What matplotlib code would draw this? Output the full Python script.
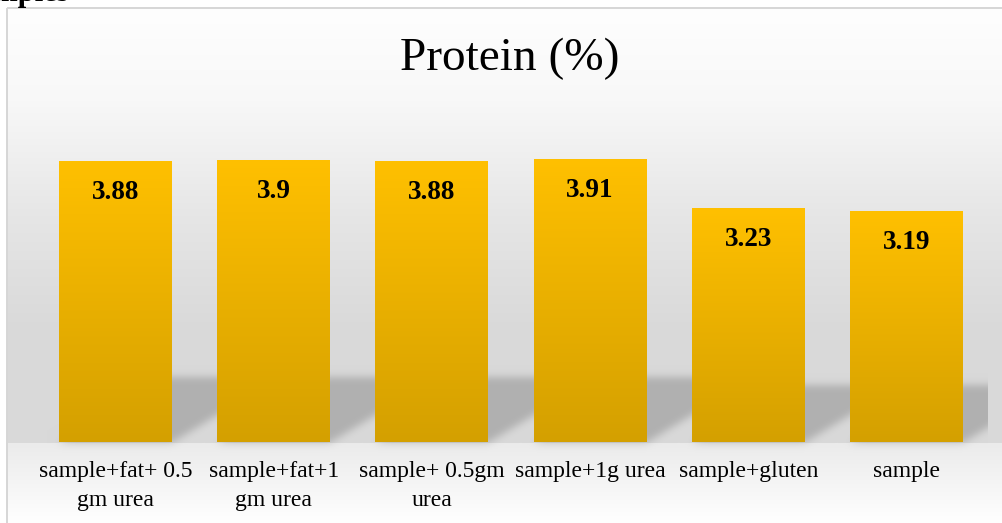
import numpy as np
import matplotlib
matplotlib.use("Agg")
import matplotlib.pyplot as plt

# ---- data -------------------------------------------------------------
categories = ["sample+fat+ 0.5\ngm urea", "sample+fat+1\ngm urea",
              "sample+ 0.5gm\nurea", "sample+1g urea", "sample+gluten", "sample"]
protein = [3.88, 3.9, 3.88, 3.91, 3.23, 3.19]
title = "Protein (%)"
heading = "Samples"

SERIF = "Liberation Serif"
W, H, DPI = 1003, 523, 100

fig = plt.figure(figsize=(W / DPI, H / DPI), dpi=DPI)
fig.patch.set_facecolor("white")

# full-figure background axes (pixel coordinates, y downwards)
ax_bg = fig.add_axes([0, 0, 1, 1], zorder=0)
ax_bg.set_xlim(0, W)
ax_bg.set_ylim(H, 0)
ax_bg.axis("off")

# plotting axes
ax = fig.add_axes([36.4 / W, (H - 442) / H, 949.2 / W, (442 - 116.2) / H], zorder=1)
ax.patch.set_alpha(0)
x = np.arange(len(categories))
bars = ax.bar(x, protein, width=0.714, color="none", edgecolor="none")
ax.set_xlim(-0.5, len(categories) - 0.5)
ax.set_ylim(0, 4.5)


def to_img(px, py):
    """display coords -> image pixel coords (origin top-left)"""
    return px, H - py


# ---- background: wall / floor gradient with a perspective bar shadow ----
base_y = to_img(*ax.transData.transform((0, 0)))[1]
rows = np.arange(H)
profile = np.interp(rows, [8, 100, 215, 330, base_y, base_y + 1, 520],
                    [254, 248, 230, 217, 217, 235, 254])
bg = np.tile(profile[:, None], (1, W)).astype(float)

mask = np.zeros((H, W))
for b in bars:
    x0, yb = to_img(*ax.transData.transform((b.get_x(), 0)))
    x1, yt = to_img(*ax.transData.transform((b.get_x() + b.get_width(), b.get_height())))
    hpx = yb - yt
    hs = 20 + 0.16 * hpx
    for r in range(int(round(yb - hs)), int(round(yb)) + 1):
        shift = (yb - r) * 1.66
        c0 = int(round(x0 + shift))
        c1 = int(round(x1 + shift))
        mask[r, max(c0, 0):min(c1, W)] = 1.0


def gblur(a, s):
    k = np.arange(-int(3 * s), int(3 * s) + 1)
    g = np.exp(-k ** 2 / (2 * s * s))
    g /= g.sum()
    a = np.apply_along_axis(lambda v: np.convolve(v, g, mode="same"), 0, a)
    a = np.apply_along_axis(lambda v: np.convolve(v, g, mode="same"), 1, a)
    return a


mask = gblur(mask, 4.0)
right_px = ax.transAxes.transform((1, 0))[0]
mask[:, int(round(right_px)) + 2:] = 0
bg -= 41 * mask
bg[:8, :] = 255
bg[:, :7] = 255
bg = np.clip(bg, 0, 255) / 255.0
ax_bg.imshow(np.dstack([bg, bg, bg]), extent=(0, W, H, 0), interpolation="bilinear",
             aspect="auto", zorder=0)
ax_bg.plot([7, 7], [8, H], color="#d6d6d6", lw=1.4, solid_capstyle="butt", zorder=1)
ax_bg.plot([7, W], [8, 8], color="#d6d6d6", lw=1.4, solid_capstyle="butt", zorder=1)
ax_bg.set_xlim(0, W)
ax_bg.set_ylim(H, 0)

# ---- bars with a vertical gold gradient ---------------------------------
top_c = np.array([255, 192, 0]) / 255
bot_c = np.array([212, 160, 0]) / 255
t = np.linspace(0, 1, 256)[:, None]
grad = (top_c[None, :] * (1 - t) + bot_c[None, :] * t)[:, None, :]
for b in bars:
    im = ax.imshow(grad, extent=(b.get_x(), b.get_x() + b.get_width(), 0, b.get_height()),
                   origin="upper", aspect="auto", interpolation="bilinear", zorder=2)
    im.set_clip_path(b)

ax.set_xlim(-0.5, len(categories) - 0.5)
ax.set_ylim(0, 4.5)

for xi, v in zip(x, protein):
    ax.annotate(f"{v:g}", xy=(xi, v), xytext=(0, -38 * 72 / DPI), textcoords="offset points",
                ha="center", va="baseline", fontsize=19.5, fontweight="bold",
                family=SERIF, color="black", zorder=3)

ax.set_xticks(x, categories)
for lbl in ax.get_xticklabels():
    lbl.set_fontfamily(SERIF)
    lbl.set_fontsize(17)
    lbl.set_linespacing(1.5)
    lbl.set_color("black")
ax.tick_params(axis="x", length=0, pad=14)
ax.set_yticks([])
for s in ax.spines.values():
    s.set_visible(False)

fig.text(510 / W, 1 - 70 / H, title, ha="center", va="baseline",
         fontsize=34, family=SERIF, color="black")
fig.text(69 / W, 1 - 0.8 / H, heading, ha="right", va="baseline",
         fontsize=22, fontweight="bold", family=SERIF, color="black")

fig.savefig("out.png", dpi=DPI)
